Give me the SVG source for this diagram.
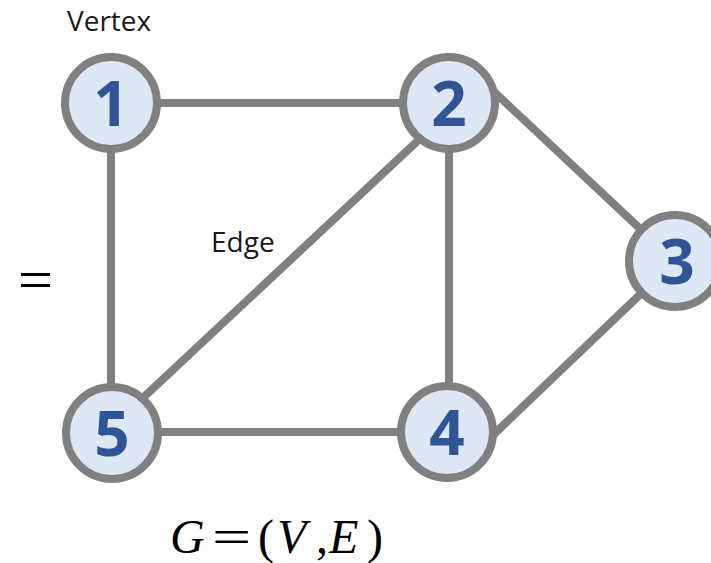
<svg xmlns="http://www.w3.org/2000/svg" width="711" height="563" viewBox="0 0 711 563">
<style>
.edge{stroke:#808080;stroke-width:8;fill:none}
.node circle{fill:#dde8f5;stroke:#808080;stroke-width:8}
.node text{font-family:"Open Sans","Noto Sans",sans-serif;font-weight:bold;font-size:62px;fill:#2f5597;text-anchor:middle}
.lbl{font-family:"Open Sans","Noto Sans",sans-serif;font-size:28px;fill:#1a1a1a}
.math{font-family:"Liberation Serif","DejaVu Serif",serif;font-size:48px;fill:#000}
</style>
<rect width="711" height="563" fill="#ffffff"/>
<g id="connectors">
<line class="edge" x1="111" y1="103" x2="449" y2="103"/>
<line class="edge" x1="111" y1="103" x2="111" y2="432"/>
<line class="edge" x1="449" y1="103" x2="449" y2="432"/>
<line class="edge" x1="111" y1="432" x2="449" y2="432"/>
<line class="edge" x1="440" y1="120" x2="130" y2="410"/>
<line class="edge" x1="490" y1="88" x2="650" y2="238"/>
<line class="edge" x1="650" y1="285" x2="490" y2="438"/>
</g>
<g id="node1" class="node"><circle cx="111" cy="103" r="46"/><text x="111" y="126">1</text></g>
<g id="node2" class="node"><circle cx="449" cy="103" r="46"/><text x="449" y="126">2</text></g>
<g id="node3" class="node"><circle cx="675" cy="261" r="46"/><text x="677" y="284">3</text></g>
<g id="node4" class="node"><circle cx="447" cy="432" r="46"/><text x="447" y="455">4</text></g>
<g id="node5" class="node"><circle cx="112" cy="433" r="46"/><text x="112" y="456">5</text></g>
<text class="lbl" x="67" y="31">Vertex</text>
<text class="lbl" x="211" y="252">Edge</text>
<rect x="21" y="273" width="29" height="3" fill="#000"/>
<rect x="21" y="284" width="29" height="3" fill="#000"/>
<text class="math" x="170" y="553" font-style="italic">G</text>
<text class="math" transform="translate(212 553) scale(1.45 1)" x="0" y="0">=</text>
<text class="math" x="258" y="553">(</text>
<text class="math" x="277" y="553" font-style="italic">V</text>
<text class="math" x="316" y="553">,</text>
<text class="math" x="329" y="553" font-style="italic">E</text>
<text class="math" x="367" y="553">)</text>
</svg>
